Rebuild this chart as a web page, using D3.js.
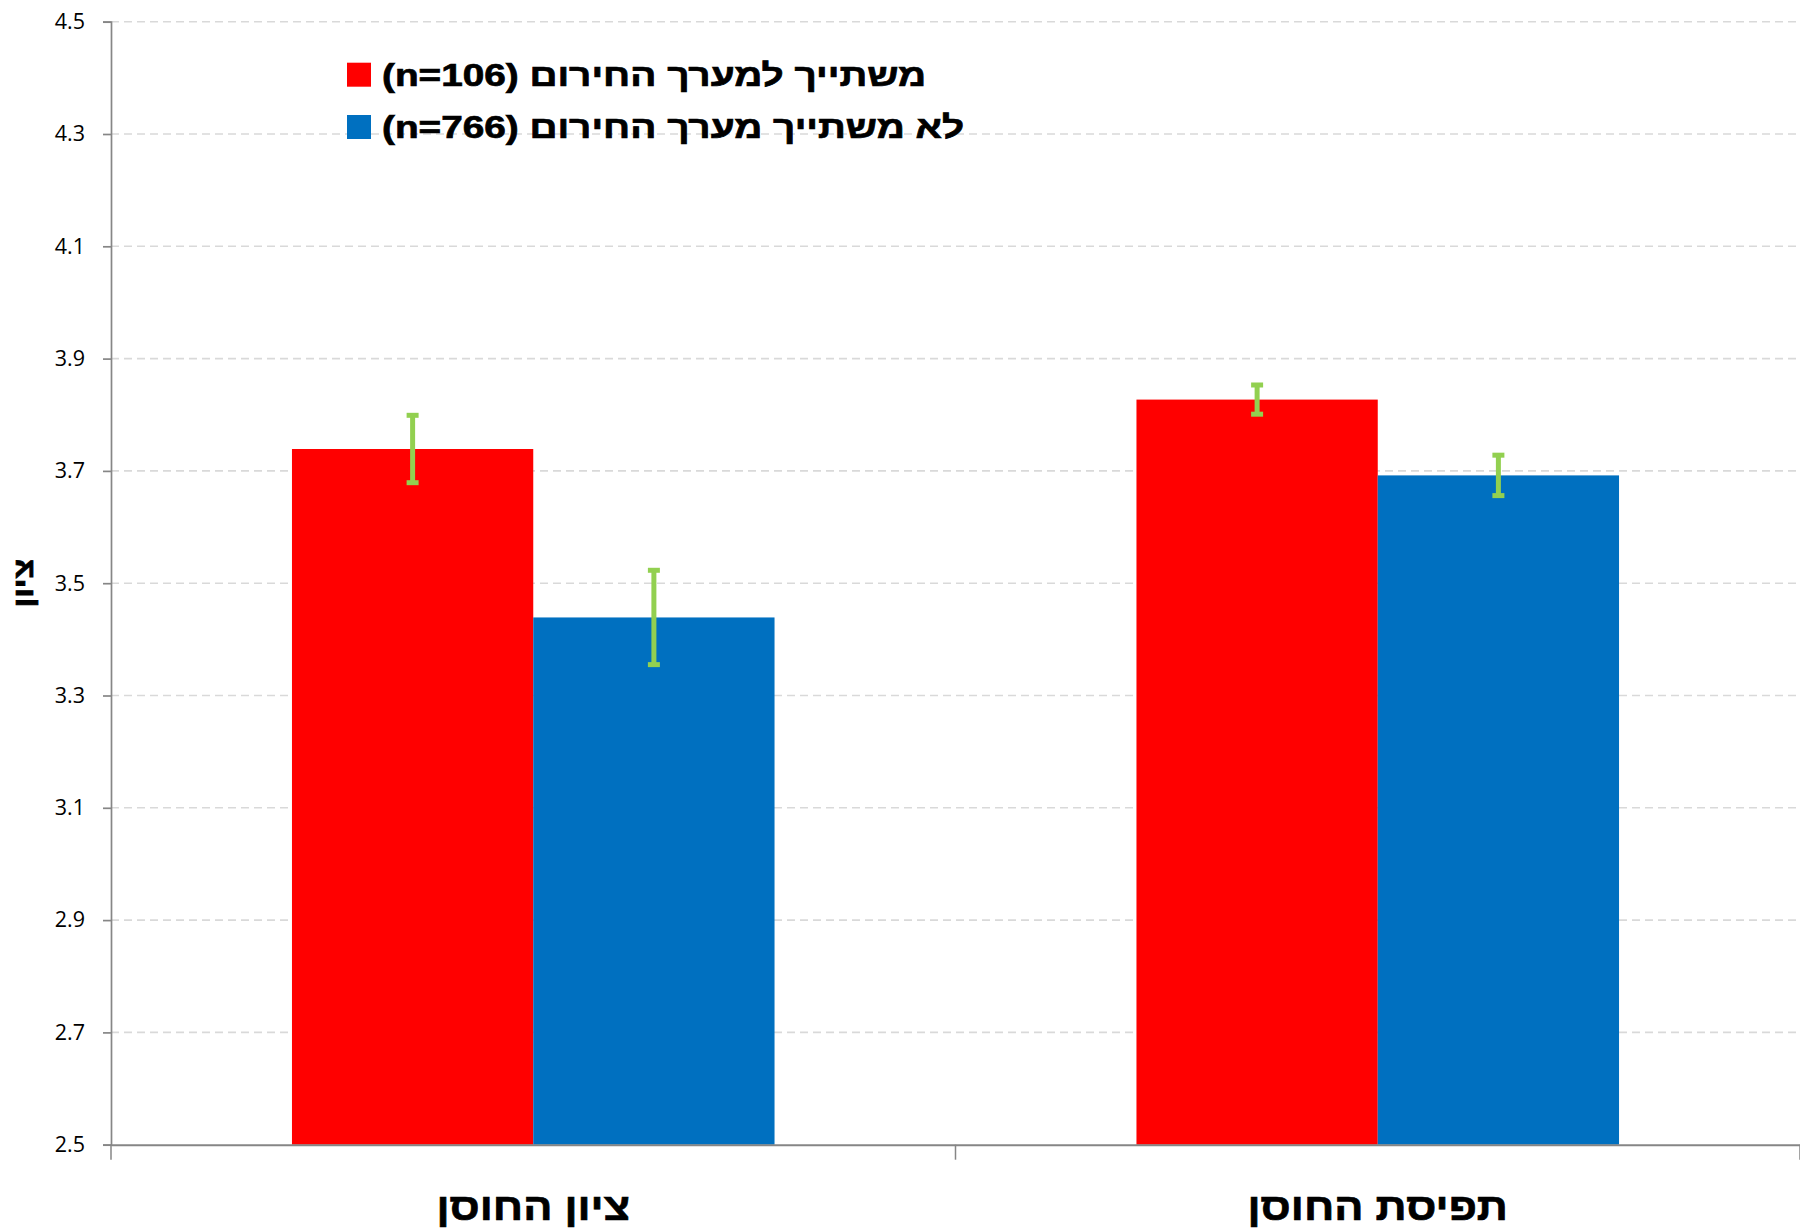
<!DOCTYPE html>
<html>
<head>
<meta charset="utf-8">
<script src="https://cdn.jsdelivr.net/npm/d3@7"></script>
<style>
	body { margin: 0; background: #fff; }
	svg { display: block; }
</style>
</head>
<body>
<svg width="1800" height="1229"></svg>
<script>
// categorieen op de x-as
const categories = ['ציון החוסן', 'תפיסת החוסן'];

// reeksen + legenda teksten
const seriesNames = ['משתייך למערך החירום (n=106)', 'לא משתייך מערך החירום (n=766)'];
const seriesColors = ['#ff0000', '#0070c0'];

// gemiddelden per reeks
const redValues = [3.739, 3.827];
const blueValues = [3.439, 3.692];

// foutmarges (+/-)
const redErrors = [0.060, 0.026];
const blueErrors = [0.084, 0.036];

const yTicks = [2.5, 2.7, 2.9, 3.1, 3.3, 3.5, 3.7, 3.9, 4.1, 4.3, 4.5];
const yTitle = 'ציון';

// hebreeuwse tekst is in het origineel breder -> horizontaal oprekken
const hebFont = '"Liberation Sans", Arial, sans-serif';

const svg = d3.select('svg');
const width = +svg.attr('width');
const height = +svg.attr('height');

const boldText = (sel, size) => sel
	.attr('font-family', hebFont)
	.attr('font-weight', 'bold')
	.attr('font-size', size)
	.attr('fill', '#000')
	.attr('stroke', '#000')
	.attr('stroke-width', 0.7);

const render = () => {
	const margin = { top: 21.7, right: 0, bottom: 84.3, left: 111 };
	const innerWidth = width - margin.left - margin.right;
	const innerHeight = height - margin.top - margin.bottom;

	const data = categories.map((cat, i) => ({
		cat: cat,
		bars: [
			{ key: seriesNames[0], value: redValues[i], err: redErrors[i], color: seriesColors[0] },
			{ key: seriesNames[1], value: blueValues[i], err: blueErrors[i], color: seriesColors[1] }
		]
	}));

	const xScale = d3.scaleBand()
		.domain(categories)
		.range([0, innerWidth]);

	const xSub = d3.scaleBand()
		.domain(seriesNames)
		.range([0, xScale.bandwidth()])
		.paddingOuter(0.75);

	const yScale = d3.scaleLinear()
		.domain([2.5, 4.5])
		.range([innerHeight, 0]);

	const g = svg.append('g')
		.attr('transform', `translate(${margin.left}, ${margin.top})`);

	// gridlines (gestippeld)
	g.append('g').selectAll('line')
		.data(yTicks.filter(t => t > 2.5))
		.enter().append('line')
			.attr('x1', 0)
			.attr('x2', innerWidth)
			.attr('y1', d => yScale(d))
			.attr('y2', d => yScale(d))
			.attr('stroke', '#d9d9d9')
			.attr('stroke-width', 1.6)
			.attr('stroke-dasharray', '8,5');

	// bars
	const groups = g.selectAll('.group').data(data)
		.enter().append('g')
			.attr('class', 'group')
			.attr('transform', d => `translate(${xScale(d.cat)}, 0)`);

	groups.selectAll('rect').data(d => d.bars)
		.enter().append('rect')
			.attr('x', d => xSub(d.key))
			.attr('y', d => yScale(d.value))
			.attr('width', xSub.bandwidth())
			.attr('height', d => innerHeight - yScale(d.value))
			.attr('fill', d => d.color);

	// error bars
	const errG = groups.selectAll('.err').data(d => d.bars)
		.enter().append('g')
			.attr('class', 'err')
			.attr('stroke', '#92d050')
			.attr('stroke-width', 5);

	errG.append('line')
		.attr('x1', d => xSub(d.key) + xSub.bandwidth() / 2)
		.attr('x2', d => xSub(d.key) + xSub.bandwidth() / 2)
		.attr('y1', d => yScale(d.value + d.err))
		.attr('y2', d => yScale(d.value - d.err));

	[1, -1].forEach(sign => {
		errG.append('line')
			.attr('x1', d => xSub(d.key) + xSub.bandwidth() / 2 - 6)
			.attr('x2', d => xSub(d.key) + xSub.bandwidth() / 2 + 6)
			.attr('y1', d => yScale(d.value + sign * d.err))
			.attr('y2', d => yScale(d.value + sign * d.err));
	});

	// y-as
	const yAxis = g.append('g')
		.call(d3.axisLeft(yScale)
			.tickValues(yTicks)
			.tickFormat(d3.format('.1f'))
			.tickSize(8)
			.tickPadding(18));
	yAxis.select('.domain').attr('stroke', '#868686').attr('stroke-width', 1.7);
	yAxis.selectAll('.tick line').attr('stroke', '#868686').attr('stroke-width', 1.7);
	yAxis.selectAll('.tick text')
		.attr('font-family', '"Open Sans", sans-serif')
		.attr('font-size', 21.5)
		.attr('fill', '#000');

	// x-as
	const xAxis = g.append('g')
		.attr('transform', `translate(0, ${innerHeight})`)
		.call(d3.axisBottom(xScale).tickSize(0).tickFormat(''));
	xAxis.select('.domain').attr('stroke', '#868686').attr('stroke-width', 2);

	// category scheidingstreepjes
	g.append('g').selectAll('line')
		.data([0, 1, 2])
		.enter().append('line')
			.attr('x1', i => i * xScale.step())
			.attr('x2', i => i * xScale.step())
			.attr('y1', innerHeight)
			.attr('y2', innerHeight + 15)
			.attr('stroke', '#868686')
			.attr('stroke-width', 1.5);

	// category labels
	g.append('g').selectAll('text')
		.data(categories)
		.enter().append('text')
			.attr('transform', d => `translate(${xScale(d) + xScale.bandwidth() / 2}, ${innerHeight + 75}) scale(1.14, 1)`)
			.attr('text-anchor', 'middle')
			.attr('direction', 'rtl')
			.call(boldText, 38)
			.text(d => d);

	// y titel
	svg.append('text')
		.attr('transform', `translate(33, ${margin.top + innerHeight / 2}) rotate(-90) scale(1.15, 1)`)
		.attr('text-anchor', 'middle')
		.attr('direction', 'rtl')
		.call(boldText, 28)
		.text(yTitle);

	// legenda
	const legend = svg.append('g');
	const items = legend.selectAll('g').data(seriesNames)
		.enter().append('g')
			.attr('transform', (d, i) => `translate(347, ${62.7 + i * 52.3})`);

	items.append('rect')
		.attr('width', 24)
		.attr('height', 24)
		.attr('fill', (d, i) => seriesColors[i]);

	items.append('text')
		.attr('transform', 'translate(35, 23) scale(1.25, 1)')
		.call(boldText, 31)
		.text(d => '\u202B' + d + '\u202C');
};

render();
</script>
</body>
</html>
